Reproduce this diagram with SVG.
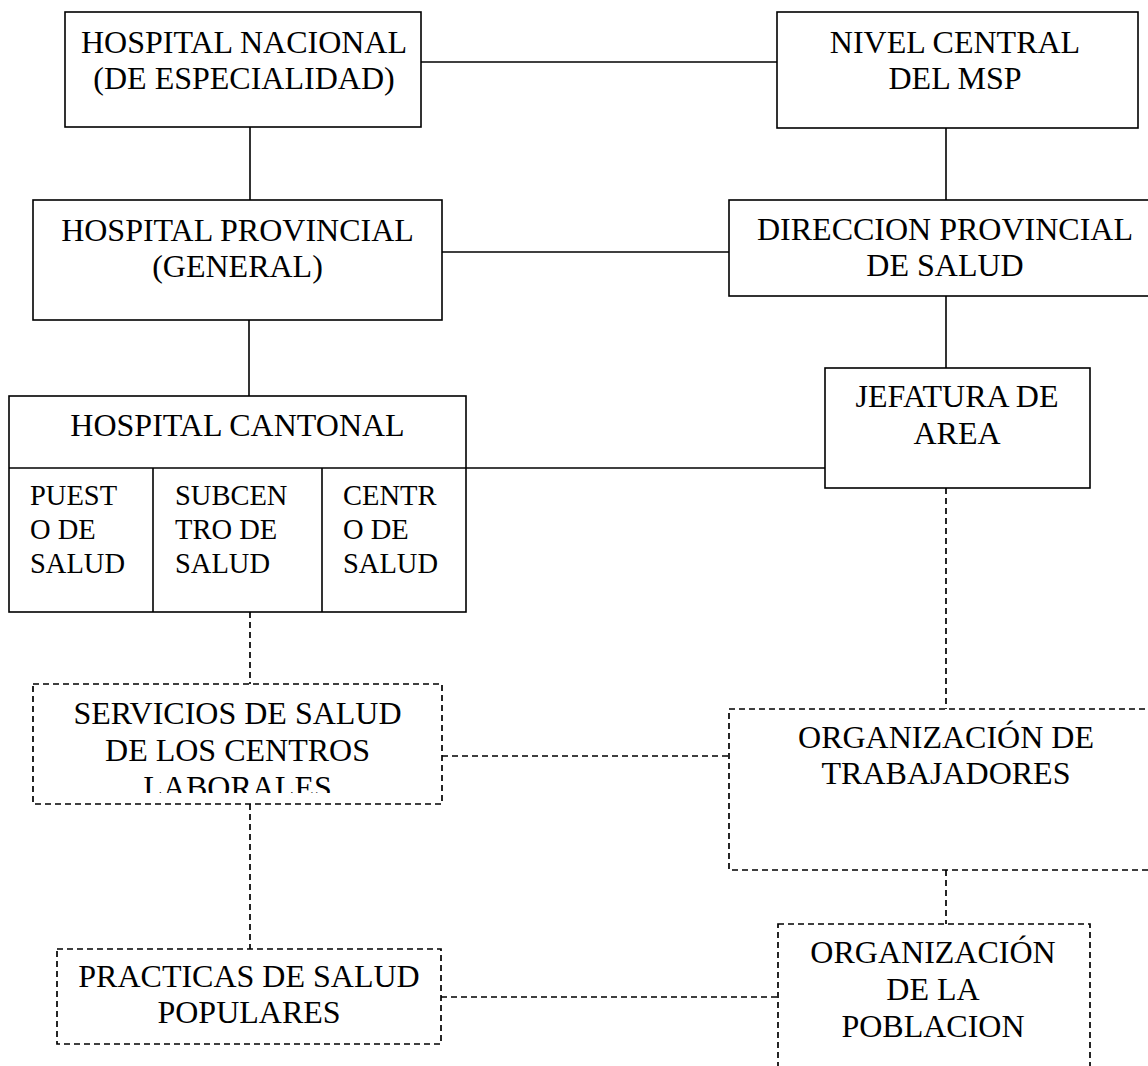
<svg xmlns="http://www.w3.org/2000/svg" width="1148" height="1066" viewBox="0 0 1148 1066">
<style>
.box{fill:#fff;stroke:#000;stroke-width:1.6}
.dbox{fill:#fff;stroke:#000;stroke-width:1.7;stroke-dasharray:6 4}
.ln{stroke:#000;stroke-width:1.6;fill:none}
.dln{stroke:#000;stroke-width:1.7;stroke-dasharray:6 4;fill:none}
.t{font-family:"Liberation Serif","Times New Roman",serif;font-size:32px;fill:#000;text-anchor:middle}
.c{font-family:"Liberation Serif","Times New Roman",serif;font-size:28.5px;fill:#000}
</style>
<defs>
<clipPath id="clipServ"><rect x="33" y="684" width="409" height="109"/></clipPath>
</defs>
<rect width="1148" height="1066" fill="#fff"/>
<g id="connectors">
<line class="ln" x1="421" y1="62" x2="777" y2="62"/>
<line class="ln" x1="250" y1="127" x2="250" y2="200"/>
<line class="ln" x1="946" y1="128" x2="946" y2="200"/>
<line class="ln" x1="442" y1="252" x2="729" y2="252"/>
<line class="ln" x1="249" y1="320" x2="249" y2="396"/>
<line class="ln" x1="946" y1="296" x2="946" y2="368"/>
<line class="ln" x1="466" y1="468" x2="825" y2="468"/>
<line class="dln" x1="946" y1="488" x2="946" y2="709"/>
<line class="dln" x1="250" y1="612" x2="250" y2="684"/>
<line class="dln" x1="442" y1="756" x2="729" y2="756"/>
<line class="dln" x1="250" y1="804" x2="250" y2="949"/>
<line class="dln" x1="946" y1="870" x2="946" y2="924"/>
<line class="dln" x1="441" y1="997" x2="778" y2="997"/>
</g>
<g id="hospital-nacional">
<rect class="box" x="65" y="12" width="356" height="115"/>
<text class="t" x="244" y="53">HOSPITAL NACIONAL</text>
<text class="t" x="244" y="89">(DE ESPECIALIDAD)</text>
</g>
<g id="nivel-central">
<rect class="box" x="777" y="12" width="361" height="116"/>
<text class="t" x="955" y="53">NIVEL CENTRAL</text>
<text class="t" x="955" y="89">DEL MSP</text>
</g>
<g id="hospital-provincial">
<rect class="box" x="33" y="200" width="409" height="120"/>
<text class="t" x="237.5" y="241">HOSPITAL PROVINCIAL</text>
<text class="t" x="237.5" y="277">(GENERAL)</text>
</g>
<g id="direccion-provincial">
<rect class="box" x="729" y="200" width="440" height="96"/>
<text class="t" x="945" y="240">DIRECCION PROVINCIAL</text>
<text class="t" x="945" y="276">DE SALUD</text>
</g>
<g id="jefatura">
<rect class="box" x="825" y="368" width="265" height="120"/>
<text class="t" x="957" y="407">JEFATURA DE</text>
<text class="t" x="957" y="444">AREA</text>
</g>
<g id="hospital-cantonal">
<rect class="box" x="9" y="396" width="457" height="216"/>
<line class="ln" x1="9" y1="468" x2="466" y2="468"/>
<line class="ln" x1="153" y1="468" x2="153" y2="612"/>
<line class="ln" x1="322" y1="468" x2="322" y2="612"/>
<text class="t" x="237.5" y="436">HOSPITAL CANTONAL</text>
</g>
<g id="puesto-de-salud">
<text class="c" x="30" y="505">PUEST</text>
<text class="c" x="30" y="539">O DE</text>
<text class="c" x="30" y="573">SALUD</text>
</g>
<g id="subcentro-de-salud">
<text class="c" x="175" y="505">SUBCEN</text>
<text class="c" x="175" y="539">TRO DE</text>
<text class="c" x="175" y="573">SALUD</text>
</g>
<g id="centro-de-salud">
<text class="c" x="343" y="505">CENTR</text>
<text class="c" x="343" y="539">O DE</text>
<text class="c" x="343" y="573">SALUD</text>
</g>
<g id="servicios-de-salud">
<rect class="dbox" x="33" y="684" width="409" height="120"/>
<g clip-path="url(#clipServ)">
<text class="t" x="237.5" y="724">SERVICIOS DE SALUD</text>
<text class="t" x="237.5" y="761">DE LOS CENTROS</text>
<text class="t" x="237.5" y="798">LABORALES</text>
</g>
</g>
<g id="organizacion-trabajadores">
<rect class="dbox" x="729" y="709" width="434" height="161"/>
<text class="t" x="946" y="748">ORGANIZACIÓN DE</text>
<text class="t" x="946" y="784">TRABAJADORES</text>
</g>
<g id="practicas-de-salud">
<rect class="dbox" x="57" y="949" width="384" height="95"/>
<text class="t" x="249" y="987">PRACTICAS DE SALUD</text>
<text class="t" x="249" y="1023">POPULARES</text>
</g>
<g id="organizacion-poblacion">
<rect class="dbox" x="778" y="924" width="312" height="160"/>
<text class="t" x="933" y="963">ORGANIZACIÓN</text>
<text class="t" x="933" y="1000">DE LA</text>
<text class="t" x="933" y="1037">POBLACION</text>
</g>
</svg>
